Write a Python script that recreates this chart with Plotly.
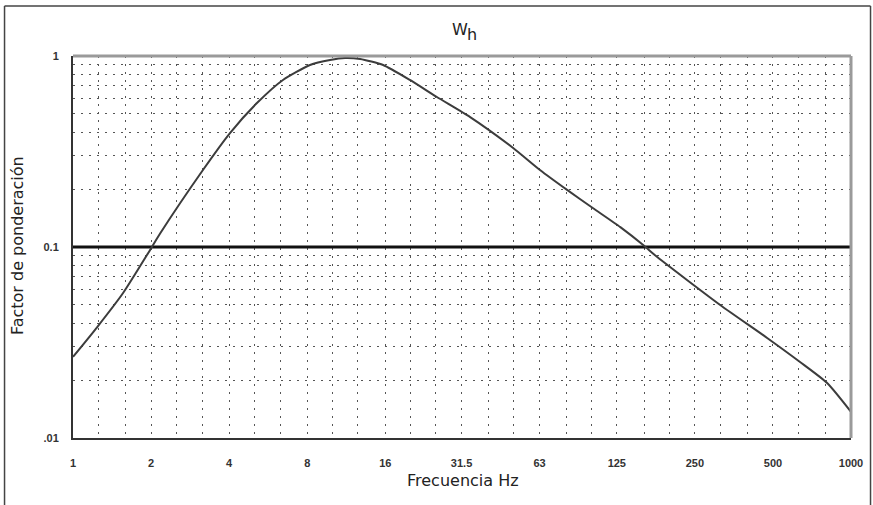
import plotly.graph_objects as go

# Frequency (Hz) and weighting factor
freq = [1, 1.24, 1.56, 1.95, 2.17, 3.17, 4.03, 5.12, 6.45, 8.2, 9.8, 11.2, 12.8,
        15.7, 19.9, 25.3, 34.0, 49.8, 63.2, 80.4, 101, 129, 158, 179, 313, 475,
        636, 809, 1000]
weight = [0.0266, 0.0381, 0.0574, 0.093, 0.118, 0.253, 0.395, 0.567, 0.749,
          0.897, 0.953, 0.976, 0.964, 0.897, 0.749, 0.61, 0.479, 0.33, 0.253,
          0.199, 0.16, 0.127, 0.1024, 0.0886, 0.0497, 0.0334, 0.025, 0.0194, 0.0137]

# Reference level line
ref_x = [1, 1000]
ref_y = [0.1, 0.1]

# Axis ticks
x_tickvals = [1, 2, 4, 8, 16, 31.5, 63, 125, 250, 500, 1000]
x_ticktext = ["1", "2", "4", "8", "16", "31.5", "63", "125", "250", "500", "1000"]
x_minor = [1.25, 1.6, 2.5, 3.15, 5, 6.3, 10, 12.5, 20, 25, 40, 50, 80, 100,
           160, 200, 315, 400, 630, 800]
y_tickvals = [0.01, 0.1, 1]
y_ticktext = [".01", "0.1", "1"]
y_minor = [0.02, 0.03, 0.04, 0.05, 0.06, 0.07, 0.08, 0.09,
           0.2, 0.3, 0.4, 0.5, 0.6, 0.7, 0.8, 0.9]

fig = go.Figure()
fig.add_trace(go.Scatter(x=ref_x, y=ref_y, mode="lines",
                         line=dict(color="#111111", width=3),
                         hoverinfo="skip", showlegend=False))
fig.add_trace(go.Scatter(x=freq, y=weight, mode="lines",
                         line=dict(color="#3c3c3c", width=2, shape="spline", smoothing=0.6),
                         showlegend=False))

grid_col = "#555555"
grid_dash = "2px,6px"
tick_font = dict(family="Liberation Sans Narrow, Liberation Sans, Arial", size=11,
                 color="#333333", weight="bold")

fig.update_xaxes(type="log", range=[0, 3], tickmode="array",
                 tickvals=x_tickvals, ticktext=x_ticktext, automargin=False,
                 showgrid=True, gridcolor=grid_col, griddash=grid_dash, gridwidth=1,
                 minor=dict(tickmode="array", tickvals=x_minor, showgrid=True,
                            gridcolor=grid_col, griddash=grid_dash, gridwidth=1),
                 showline=True, linecolor="#333333", linewidth=2,
                 ticks="", ticklabelstandoff=14, tickfont=tick_font,
                 zeroline=False)
fig.update_yaxes(type="log", range=[-2, 0], tickmode="array",
                 tickvals=y_tickvals, ticktext=y_ticktext, automargin=False,
                 showgrid=True, gridcolor=grid_col, griddash=grid_dash, gridwidth=1,
                 minor=dict(tickmode="array", tickvals=y_minor, showgrid=True,
                            gridcolor=grid_col, griddash=grid_dash, gridwidth=1),
                 showline=True, linecolor="#333333", linewidth=2,
                 ticks="", ticklabelstandoff=10, tickfont=tick_font,
                 zeroline=False)

label_font = dict(family="DejaVu Sans, Verdana, sans-serif", size=16, color="#222222")

fig.update_layout(
    width=873, height=505,
    margin=dict(l=73, r=22, t=56, b=67, autoexpand=False),
    paper_bgcolor="white", plot_bgcolor="white",
    showlegend=False,
    annotations=[
        dict(text="W", x=0.497, y=1.07, xref="paper", yref="paper",
             showarrow=False, xanchor="center", yanchor="middle", font=label_font),
        dict(text="h", x=0.5125, y=1.055, xref="paper", yref="paper",
             showarrow=False, xanchor="center", yanchor="middle", font=label_font),
        dict(text="Frecuencia Hz", x=0.501, y=-0.11, xref="paper", yref="paper",
             showarrow=False, xanchor="center", yanchor="middle", font=label_font),
        dict(text="Factor de ponderación", x=-0.072, y=0.505, xref="paper", yref="paper",
             showarrow=False, xanchor="center", yanchor="middle", textangle=-90,
             font=label_font),
    ],
    shapes=[
        # plot area top and right borders (lighter)
        dict(type="line", xref="paper", yref="paper", x0=0, x1=1, y0=1, y1=1,
             line=dict(color="#9a9a9a", width=3)),
        dict(type="line", xref="paper", yref="paper", x0=1, x1=1, y0=0, y1=1,
             line=dict(color="#9a9a9a", width=3)),
        # outer frame (left, top, right)
        dict(type="line", xref="paper", yref="paper", x0=-0.088, x1=-0.088, y0=-0.2, y1=1.1309,
             line=dict(color="#444444", width=1.5)),
        dict(type="line", xref="paper", yref="paper", x0=-0.088, x1=1.0251, y0=1.1309, y1=1.1309,
             line=dict(color="#444444", width=1.5)),
        dict(type="line", xref="paper", yref="paper", x0=1.0251, x1=1.0251, y0=-0.2, y1=1.1309,
             line=dict(color="#444444", width=1.5)),
    ],
)

fig.write_html("out.html", config={"displayModeBar": False},
               post_script="document.body.style.margin='0';document.body.style.overflow='hidden';")
